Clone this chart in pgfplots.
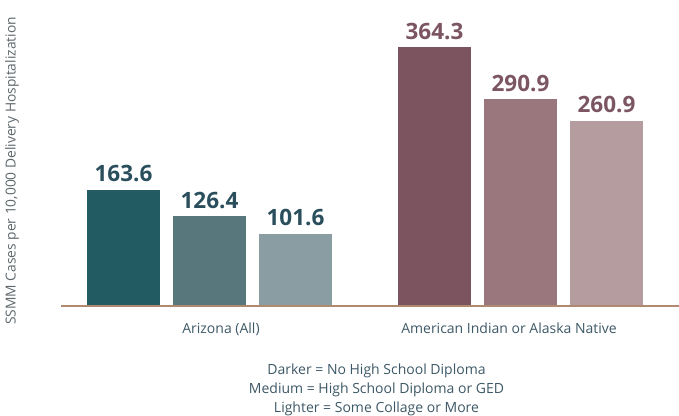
\documentclass[border=0pt]{standalone}
\usepackage{fontspec}
\setmainfont{Open Sans}
\usepackage{pgfplots}
\pgfplotsset{compat=1.18}
\definecolor{tealA}{HTML}{235B63}
\definecolor{tealB}{HTML}{58777C}
\definecolor{tealC}{HTML}{8A9DA2}
\definecolor{marA}{HTML}{7B5460}
\definecolor{marB}{HTML}{9A777D}
\definecolor{marC}{HTML}{B59C9F}
\definecolor{tealtext}{HTML}{2A4E5C}
\definecolor{martext}{HTML}{7B5662}
\definecolor{ticktext}{HTML}{3D5866}
\definecolor{ylabtext}{HTML}{5E676B}
\definecolor{axiscol}{HTML}{B08A70}
\begin{document}
\begin{tikzpicture}
\begin{axis}[
  at={(0,0)}, anchor=south west,
  scale only axis, width=618pt, height=306pt,
  xmin=61, xmax=679, ymin=0, ymax=431,
  axis x line=bottom, axis y line=none,
  x axis line style={draw=axiscol, line width=2pt, -},
  xtick={221,509}, xticklabels={Arizona (All),American Indian or Alaska Native},
  major tick length=0pt, ytick=\empty,
  xticklabel style={text=ticktext, font=\fontsize{14}{14}\selectfont, anchor=base, yshift=-27pt},
  every axis plot/.append style={ybar, bar width=73, bar shift=0pt, draw=none},
  nodes near coords, point meta=explicit symbolic,
  nodes near coords style={font=\fontsize{22.5}{22.5}\selectfont\bfseries, anchor=base, inner sep=0pt, yshift=8pt},
  axis on top, clip=false,
]
\addplot[fill=tealA, nodes near coords style={text=tealtext}] coordinates {(123.5,163.6)[163.6]};
\addplot[fill=tealB, nodes near coords style={text=tealtext}] coordinates {(209.5,126.4)[126.4]};
\addplot[fill=tealC, nodes near coords style={text=tealtext}] coordinates {(295.5,101.6)[101.6]};
\addplot[fill=marA, nodes near coords style={text=martext}] coordinates {(434.5,364.3)[364.3]};
\addplot[fill=marB, nodes near coords style={text=martext}] coordinates {(520.5,290.9)[290.9]};
\addplot[fill=marC, nodes near coords style={text=martext}] coordinates {(606.5,260.9)[260.9]};
\end{axis}
\node[rotate=90, text=ylabtext, font=\fontsize{13.8}{13.8}\selectfont] at (-49pt,135pt) {SSMM Cases per 10,000 Delivery Hospitalization};
\begin{scope}[every node/.style={anchor=base, text=ticktext, font=\fontsize{14}{14}\selectfont}]
\node at (315.5pt,-68pt) {Darker = No High School Diploma};
\node at (315.5pt,-87pt) {Medium = High School Diploma or GED};
\node at (315.5pt,-106pt) {Lighter = Some Collage or More};
\end{scope}
\pgfresetboundingbox
\useasboundingbox (-61pt,-109pt) rectangle (618pt,306pt);
\end{tikzpicture}
\end{document}
